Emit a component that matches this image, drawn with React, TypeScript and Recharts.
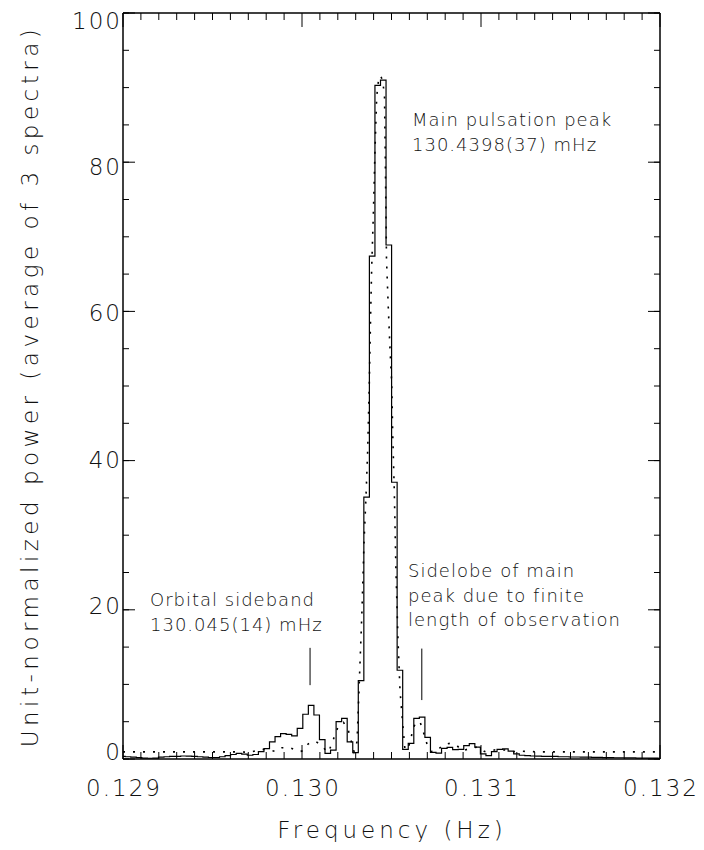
import React from 'react';
import { ComposedChart, Line, XAxis, YAxis, ReferenceLine, Customized } from 'recharts';

const FONT = '"DejaVu Sans", "Liberation Sans", sans-serif';
const INK = '#111';
const THIN = 0.001;

// ---- axis ticks ----
const xMajorTicks = [0.129, 0.13, 0.131, 0.132];
const xMinorTicks = [
  0.1291, 0.1292, 0.1293, 0.1294, 0.1295, 0.1296, 0.1297, 0.1298, 0.1299,
  0.1301, 0.1302, 0.1303, 0.1304, 0.1305, 0.1306, 0.1307, 0.1308, 0.1309,
  0.1311, 0.1312, 0.1313, 0.1314, 0.1315, 0.1316, 0.1317, 0.1318, 0.1319,
];
const yMajorTicks = [0, 20, 40, 60, 80, 100];
const yMinorTicks = [0, 5, 10, 15, 20, 25, 30, 35, 40, 45, 50, 55, 60, 65, 70, 75, 80, 85, 90, 95, 100];

// ---- observed spectrum (histogram): bin start frequency (Hz) and power ----
const binStart = [
  0.129, 0.1290122, 0.1290432, 0.1290742, 0.1291052, 0.1291362, 0.1291672, 0.1291982,
  0.1292292, 0.1292602, 0.1292912, 0.1293222, 0.1293532, 0.1293843, 0.1294153, 0.1294463,
  0.1294773, 0.1295083, 0.1295393, 0.1295703, 0.1296013, 0.1296323, 0.1296633, 0.1296944,
  0.1297254, 0.1297564, 0.1297874, 0.1298184, 0.1298494, 0.1298804, 0.1299114, 0.1299424,
  0.1299734, 0.1300045, 0.1300355, 0.1300665, 0.1300975, 0.1301285, 0.1301595, 0.1301905,
  0.1302215, 0.1302525, 0.1302835, 0.1303145, 0.1303455, 0.1303765, 0.1304075, 0.1304385,
  0.1304695, 0.1305005, 0.1305315, 0.1305625, 0.1305935, 0.1306246, 0.1306556, 0.1306866,
  0.1307176, 0.1307486, 0.1307796, 0.1308106, 0.1308416, 0.1308726, 0.1309036, 0.1309346,
  0.1309656, 0.1309966, 0.1310276, 0.1310586, 0.1310897, 0.1311207, 0.1311517, 0.1311827,
  0.1312137, 0.1312447, 0.1312757, 0.1313067, 0.1313377, 0.1313687, 0.1314307, 0.1314927,
  0.1315547, 0.1316167, 0.1316787, 0.1317407, 0.1318027, 0.1318647, 0.1319267, 0.1319887,
  0.132,
];
const observedPower = [
  0.35, 0.3, 0.25, 0.18, 0.12, 0.1, 0.12, 0.25,
  0.3, 0.35, 0.35, 0.4, 0.38, 0.35, 0.3, 0.25,
  0.2, 0.2, 0.3, 0.45, 0.6, 0.75, 0.65, 0.5,
  0.6, 1.0, 1.4, 2.3, 3.0, 3.4, 3.3, 3.1,
  4.1, 6.0, 7.2, 5.9, 2.6, 0.75, 1.2, 5.0,
  5.45, 2.3, 0.85, 10.5, 35.1, 67.4, 90.3, 91.0,
  68.9, 37.1, 11.9, 1.3, 2.1, 5.45, 5.6, 2.9,
  0.9, 0.8, 1.43, 1.55, 1.25, 1.3, 1.8, 2.05,
  1.6, 0.7, 0.45, 1.0, 1.3, 1.35, 1.05, 0.7,
  0.5, 0.45, 0.4, 0.38, 0.36, 0.34, 0.3, 0.27,
  0.24, 0.21, 0.19, 0.17, 0.15, 0.13, 0.12, 0.1,
  0.1,
];

// ---- model spectrum (dotted curve) ----
const modelFreq = [
  0.129, 0.1296536, 0.1297095, 0.1297765, 0.1298212, 0.1298547, 0.1298883, 0.129933,
  0.1299888, 0.1300056, 0.1300335, 0.1300726, 0.1301006, 0.1301285, 0.130148, 0.1301732,
  0.1302011, 0.1302318, 0.130257, 0.1302737, 0.1302905, 0.1303073, 0.1303184, 0.1303352,
  0.1303464, 0.1303575, 0.130367, 0.130376, 0.1303838, 0.1303894, 0.1303983, 0.1304078,
  0.1304173, 0.1304274, 0.1304385, 0.1304497, 0.1304609, 0.1304721, 0.1304821, 0.1304916,
  0.1305011, 0.1305067, 0.1305156, 0.1305251, 0.1305363, 0.1305475, 0.1305615, 0.1305754,
  0.1305922, 0.1306073, 0.1306184, 0.1306369, 0.1306592, 0.130676, 0.1306983, 0.1307207,
  0.1307542, 0.1307877, 0.1308268, 0.1308659, 0.1308939, 0.1309385, 0.1309777, 0.1310196,
  0.1310559, 0.1310894, 0.1311341, 0.1311648, 0.1312179, 0.1313296, 0.132,
];
const modelPower = [
  0.95, 0.95, 0.9, 1.3, 1.2, 1.0, 1.5, 1.5,
  1.0, 1.1, 2.0, 2.4, 2.0, 1.3, 0.9, 2.5,
  4.3, 4.9, 4.0, 2.5, 1.0, 2.3, 9.2, 20,
  29, 35.2, 41.4, 50.4, 60, 66, 72.7, 81.6,
  88.8, 91, 91.6, 91, 89, 67, 60.5, 55,
  50.4, 43.7, 36, 25, 16, 9.2, 5, 1.2,
  1.5, 2.5, 4.0, 4.9, 5.0, 3.8, 2.0, 1.0,
  1.1, 1.9, 2.1, 1.8, 1.1, 1.4, 1.6, 1.0,
  1.1, 1.3, 1.2, 0.95, 1.05, 0.95, 0.95,
];

// ---- annotations ----
const orbitalMarker = { f: 0.130045, from: 9.9, to: 14.9 };
const sidelobeMarker = { f: 0.1306693, from: 7.9, to: 14.8 };
const mainLabel = ['Main pulsation peak', '130.4398(37) mHz'];
const orbitalLabel = ['Orbital sideband', '130.045(14) mHz'];
const sidelobeLabel = ['Sidelobe of main', 'peak due to finite', 'length of observation'];

const observedData = binStart.map((f, i) => ({ f, p: observedPower[i] }));
const modelData = modelFreq.map((f, i) => ({ f, p: modelPower[i] }));

const X_DOMAIN: [number, number] = [0.129, 0.132];
const Y_DOMAIN: [number, number] = [0, 100];

const CHART_W = 704;
const CHART_H = 850;
const MARGIN = { top: 13, right: 44, bottom: 91, left: 123 };
const PLOT_H = CHART_H - MARGIN.top - MARGIN.bottom;
const UNITS_PER_PX = (Y_DOMAIN[1] - Y_DOMAIN[0]) / PLOT_H;

const MAJ = 14;
const MIN = 7;
const YMAJ = 12;
const YMIN = 6;

// bottom tick labels (tick lines for x are drawn as reference segments)
const bottomLabel = (props: any) => {
  const { x, y, payload } = props;
  return (
    <text x={x + 1} y={y + MAJ + 37} textAnchor="middle" fontSize={23} fontFamily={FONT}
      fontWeight={200} letterSpacing={2} fill={INK}>
      {Number(payload.value).toFixed(3)}
    </text>
  );
};
const leftTick = (len: number, label: boolean) => (props: any) => {
  const { x, y, payload } = props;
  const v = Number(payload.value);
  const shift = -7 + 0.15 * v;
  return (
    <g>
      <line x1={x - len} x2={x} y1={y} y2={y} stroke="#000" strokeWidth={1} />
      {label && (
        <text x={x - len - 1} y={y + 8 + shift} textAnchor="end" fontSize={23} fontFamily={FONT}
          fontWeight={200} letterSpacing={2} fill={INK}>
          {String(v)}
        </text>
      )}
    </g>
  );
};
const rightTick = (len: number) => (props: any) => {
  const { x, y } = props;
  return <line x1={x} x2={x + len} y1={y} y2={y} stroke="#000" strokeWidth={1} />;
};

const textStyle = { fontSize: 18, fontFamily: FONT, fontWeight: 200, letterSpacing: 1, fill: INK } as const;

const Annotations = () => (
  <g>
    {mainLabel.map((t, i) => (
      <text key={'m' + i} x={412} y={126 + i * 24.5} {...textStyle}>{t}</text>
    ))}
    {orbitalLabel.map((t, i) => (
      <text key={'o' + i} x={150} y={606 + i * 24.5} {...textStyle}>{t}</text>
    ))}
    {sidelobeLabel.map((t, i) => (
      <text key={'s' + i} x={408} y={577 + i * 24.5} {...textStyle}>{t}</text>
    ))}
    <text x={392} y={838} textAnchor="middle" fontSize={23} fontFamily={FONT} fontWeight={200}
      letterSpacing={4} fill={INK}>Frequency (Hz)</text>
    <text transform="translate(38 386) rotate(-90)" textAnchor="middle" fontSize={23}
      fontFamily={FONT} fontWeight={200} letterSpacing={4.5} fill={INK}>
      Unit-normalized power (average of 3 spectra)
    </text>
  </g>
);

const frame = { stroke: '#000', strokeWidth: 1.5 };

const xTickSegments = [
  ...xMajorTicks.map((f) => ({ f, len: MAJ })),
  ...xMinorTicks.map((f) => ({ f, len: MIN })),
];

export default function App() {
  return (
    <div style={{ margin: -8, width: CHART_W, height: CHART_H, background: '#fff', overflow: 'hidden' }}>
      <ComposedChart width={CHART_W} height={CHART_H} margin={MARGIN}>
        <XAxis xAxisId="b" orientation="bottom" mirror type="number" dataKey="f" domain={X_DOMAIN}
          ticks={xMajorTicks} interval={0} height={THIN} tickSize={MAJ} tickMargin={0}
          axisLine={frame} tickLine={false} tick={bottomLabel} allowDataOverflow />
        <XAxis xAxisId="t" orientation="top" mirror type="number" dataKey="f" domain={X_DOMAIN}
          ticks={xMajorTicks} interval={0} height={THIN} tickSize={MAJ} tickMargin={0}
          axisLine={frame} tickLine={false} tick={false} allowDataOverflow />
        <YAxis yAxisId="l" orientation="left" mirror type="number" domain={Y_DOMAIN} ticks={yMajorTicks}
          interval={0} width={THIN} tickSize={YMAJ} tickMargin={0}
          axisLine={frame} tickLine={false} tick={leftTick(YMAJ, true)} allowDataOverflow />
        <YAxis yAxisId="lm" orientation="left" mirror type="number" domain={Y_DOMAIN} ticks={yMinorTicks}
          interval={0} width={THIN} tickSize={YMIN} tickMargin={0} axisLine={false} tickLine={false}
          tick={leftTick(YMIN, false)} allowDataOverflow />
        <YAxis yAxisId="r" orientation="right" mirror type="number" domain={Y_DOMAIN} ticks={yMajorTicks}
          interval={0} width={THIN} tickSize={YMAJ} tickMargin={0}
          axisLine={frame} tickLine={false} tick={rightTick(YMAJ)} allowDataOverflow />
        <YAxis yAxisId="rm" orientation="right" mirror type="number" domain={Y_DOMAIN} ticks={yMinorTicks}
          interval={0} width={THIN} tickSize={YMIN} tickMargin={0} axisLine={false} tickLine={false}
          tick={rightTick(YMIN)} allowDataOverflow />

        {/* x-axis tick marks, inward on bottom and top */}
        {xTickSegments.map(({ f, len }) => (
          <ReferenceLine key={'xb' + f} xAxisId="b" yAxisId="l" stroke="#000" strokeWidth={1}
            segment={[{ x: f, y: Y_DOMAIN[0] }, { x: f, y: Y_DOMAIN[0] + len * UNITS_PER_PX }]} />
        ))}
        {xTickSegments.map(({ f, len }) => (
          <ReferenceLine key={'xt' + f} xAxisId="b" yAxisId="l" stroke="#000" strokeWidth={1}
            segment={[{ x: f, y: Y_DOMAIN[1] }, { x: f, y: Y_DOMAIN[1] - len * UNITS_PER_PX }]} />
        ))}

        <Line xAxisId="b" yAxisId="l" data={modelData} dataKey="p" type="linear"
          stroke="#000" strokeWidth={1.6} strokeDasharray="2 8" dot={false}
          activeDot={false} isAnimationActive={false} />
        <Line xAxisId="b" yAxisId="l" data={observedData} dataKey="p" type="stepAfter"
          stroke="#000" strokeWidth={1.2} dot={false} activeDot={false} isAnimationActive={false} />

        <ReferenceLine xAxisId="b" yAxisId="l" stroke="#000" strokeWidth={1}
          segment={[{ x: orbitalMarker.f, y: orbitalMarker.from }, { x: orbitalMarker.f, y: orbitalMarker.to }]} />
        <ReferenceLine xAxisId="b" yAxisId="l" stroke="#000" strokeWidth={1}
          segment={[{ x: sidelobeMarker.f, y: sidelobeMarker.from }, { x: sidelobeMarker.f, y: sidelobeMarker.to }]} />

        <Customized component={Annotations} />
      </ComposedChart>
    </div>
  );
}
